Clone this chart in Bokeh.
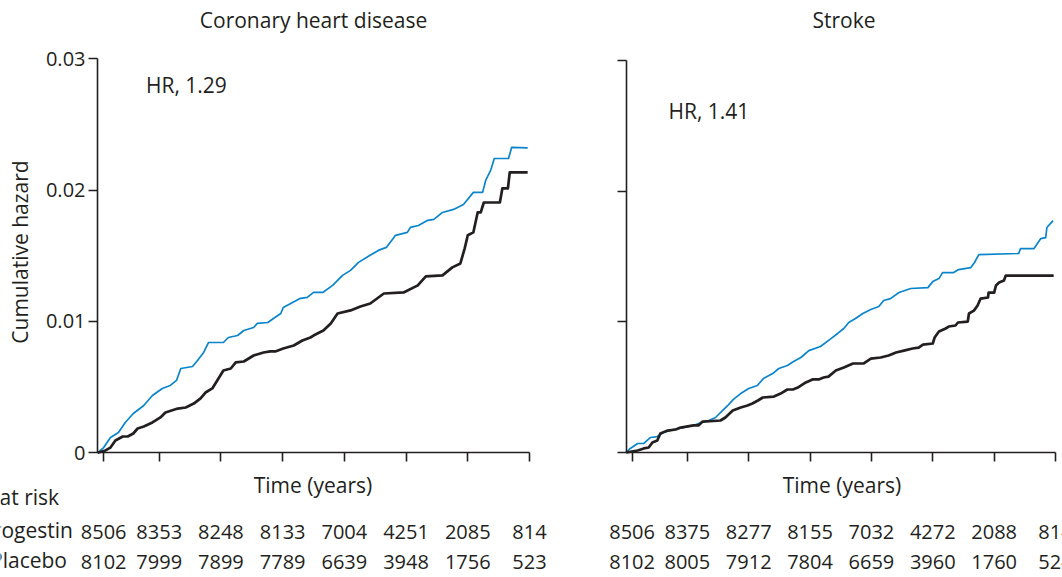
import math
from bokeh.plotting import figure
from bokeh.models import Range1d, FixedTicker, Label, LabelSet, ColumnDataSource
from bokeh.layouts import row
from bokeh.embed import file_html
from bokeh.resources import INLINE
from bokeh.core.properties import value

FONT = "Open Sans"
INK = "#231f20"
BLUE = "#0a85cc"

# ---------------- data ----------------
panel_titles = ["Coronary heart disease", "Stroke"]
hr_labels = ["HR, 1.29", "HR, 1.41"]
x_title = "Time (years)"
y_title = "Cumulative hazard"
risk_title = "Number at risk"
group_names = ["Estrogen + progestin", "Placebo"]

years = [0, 1, 2, 3, 4, 5, 6, 7]
y_ticks = [0, 0.01, 0.02, 0.03]
y_tick_labels = ["0", "0.01", "0.02", "0.03"]

chd_risk_ep = [8506, 8353, 8248, 8133, 7004, 4251, 2085, 814]
chd_risk_pl = [8102, 7999, 7899, 7789, 6639, 3948, 1756, 523]
stroke_risk_ep = [8506, 8375, 8277, 8155, 7032, 4272, 2088, 814]
stroke_risk_pl = [8102, 8005, 7912, 7804, 6659, 3960, 1760, 524]

# Coronary heart disease, estrogen + progestin (blue)
chd_t_ep = [0, 0.10, 0.21, 0.34, 0.45, 0.58, 0.75, 0.89, 1.05, 1.18, 1.28, 1.35, 1.54, 1.62,
            1.72, 1.80, 2.04, 2.12, 2.27, 2.37, 2.53, 2.59, 2.76, 2.85, 2.97, 3.01, 3.13, 3.29,
            3.40, 3.50, 3.65, 3.81, 3.97, 4.10, 4.23, 4.39, 4.55, 4.68, 4.83, 5.02, 5.07, 5.20,
            5.35, 5.45, 5.59, 5.77, 5.93, 6.09, 6.24, 6.29, 6.37, 6.43, 6.66, 6.71, 6.97]
chd_h_ep = [0, 0.0004, 0.00117, 0.00155, 0.00231, 0.00299, 0.0036, 0.00436, 0.0049, 0.00513,
            0.00551, 0.00642, 0.00657, 0.00703, 0.00764, 0.0084, 0.0084, 0.00878, 0.00893,
            0.00931, 0.00954, 0.00985, 0.00992, 0.01023, 0.01061, 0.01107, 0.01137, 0.01176,
            0.01183, 0.01221, 0.01221, 0.01275, 0.01351, 0.01389, 0.0145, 0.01496, 0.01541,
            0.01564, 0.01656, 0.01678, 0.01716, 0.01731, 0.0177, 0.01777, 0.0183, 0.01853,
            0.01891, 0.01983, 0.01983, 0.02074, 0.0215, 0.02241, 0.02241, 0.02325, 0.02322]

# Coronary heart disease, placebo (black)
chd_t_pl = [0, 0.13, 0.21, 0.29, 0.41, 0.49, 0.58, 0.65, 0.75, 0.89, 1.02, 1.10, 1.30, 1.43,
            1.56, 1.67, 1.75, 1.86, 1.96, 2.04, 2.16, 2.24, 2.37, 2.53, 2.69, 2.80, 2.88, 3.01,
            3.18, 3.32, 3.45, 3.50, 3.66, 3.78, 3.89, 4.10, 4.26, 4.42, 4.64, 4.96, 5.19, 5.32,
            5.59, 5.75, 5.88, 5.95, 6.00, 6.09, 6.16, 6.21, 6.26, 6.52, 6.56, 6.65, 6.68, 6.97]
chd_h_pl = [0, 0.00018, 0.0004, 0.00094, 0.00124, 0.00124, 0.00147, 0.00185, 0.002, 0.00231,
            0.00269, 0.00307, 0.00337, 0.00345, 0.00375, 0.00414, 0.00459, 0.0049, 0.00566,
            0.00627, 0.00642, 0.00688, 0.00695, 0.00741, 0.00764, 0.00772, 0.00772, 0.00794,
            0.00817, 0.00855, 0.00878, 0.00893, 0.00931, 0.00985, 0.01061, 0.01084, 0.01114,
            0.01137, 0.01213, 0.01221, 0.01275, 0.01343, 0.01351, 0.01412, 0.01442, 0.01557,
            0.01656, 0.01678, 0.0183, 0.0183, 0.01906, 0.01906, 0.02013, 0.02013, 0.02135, 0.02135]

# Stroke, estrogen + progestin (blue)
stroke_t_ep = [0, 0.07, 0.19, 0.29, 0.40, 0.51, 0.61, 0.77, 0.94, 1.10, 1.22, 1.35, 1.46, 1.54,
               1.66, 1.75, 1.87, 2.00, 2.14, 2.24, 2.39, 2.49, 2.63, 2.73, 2.85, 2.98, 3.17, 3.34,
               3.45, 3.55, 3.63, 3.74, 3.86, 3.99, 4.12, 4.20, 4.31, 4.45, 4.64, 4.92, 5.00, 5.10,
               5.16, 5.34, 5.42, 5.62, 5.68, 5.75, 6.40, 6.43, 6.65, 6.76, 6.84, 6.86, 6.96]
stroke_h_ep = [0, 0.00031, 0.00069, 0.00069, 0.00115, 0.00122, 0.00153, 0.00176, 0.00191,
               0.00207, 0.0023, 0.00245, 0.00268, 0.00306, 0.0036, 0.00406, 0.00451, 0.0049,
               0.00513, 0.00566, 0.00604, 0.00643, 0.00666, 0.00696, 0.00727, 0.0078, 0.00811,
               0.00872, 0.00911, 0.00949, 0.00995, 0.01025, 0.01064, 0.01094, 0.01117, 0.01163,
               0.01178, 0.01224, 0.01255, 0.01262, 0.01308, 0.01331, 0.01377, 0.01377, 0.014,
               0.01415, 0.01454, 0.01515, 0.01523, 0.01561, 0.01561, 0.01637, 0.01645, 0.01722,
               0.01775]

# Stroke, placebo (black)
stroke_t_pl = [0, 0.19, 0.29, 0.37, 0.43, 0.51, 0.56, 0.68, 0.81, 0.89, 1.10, 1.18, 1.25, 1.54,
               1.62, 1.74, 1.87, 1.98, 2.06, 2.15, 2.23, 2.41, 2.52, 2.63, 2.72, 2.80, 2.93, 3.04,
               3.14, 3.22, 3.30, 3.42, 3.55, 3.70, 3.87, 3.99, 4.15, 4.28, 4.40, 4.53, 4.67, 4.77,
               4.84, 5.00, 5.03, 5.10, 5.21, 5.26, 5.37, 5.41, 5.57, 5.59, 5.67, 5.73, 5.78, 5.90,
               5.91, 6.00, 6.03, 6.08, 6.16, 6.19, 6.97]
stroke_h_pl = [0, 0.00015, 0.00031, 0.00038, 0.00077, 0.00092, 0.00145, 0.00168, 0.00176,
               0.00191, 0.00207, 0.00207, 0.00237, 0.00245, 0.00268, 0.00321, 0.00344, 0.0036,
               0.00375, 0.00398, 0.00421, 0.00428, 0.00451, 0.00482, 0.00482, 0.00497, 0.00536,
               0.00559, 0.00559, 0.00574, 0.00581, 0.00627, 0.0065, 0.00681, 0.00681, 0.00719,
               0.00727, 0.00742, 0.00765, 0.0078, 0.00796, 0.00803, 0.00826, 0.00834, 0.0088,
               0.00926, 0.00949, 0.00964, 0.00972, 0.00995, 0.01002, 0.01064, 0.01086, 0.01125,
               0.01178, 0.01186, 0.01224, 0.01224, 0.01278, 0.01301, 0.01316, 0.01354, 0.01354]

# ---------------- layout (page pixels) ----------------
H = 577
X_END = 7
Y_END = 0.03
LABEL_SHIFT = 9  # Label draws its alphabetic baseline this many px below its anchor
tick_pos = [max(y, 0.1) for y in years]


class Panel:
    """A figure whose frame is the whole canvas; the axes sit at the data origin."""

    def __init__(self, page_x0, width, ax_left, ax_right, ax_top, ax_bottom, show_ylabels):
        self.page_x0 = page_x0
        self.ax_left, self.ax_right = ax_left, ax_right
        self.ax_top, self.ax_bottom = ax_top, ax_bottom
        x_start, x_end = self.dx(page_x0), self.dx(page_x0 + width)
        y_end, y_start = self.dy(0), self.dy(H)
        p = figure(width=width, height=H, x_range=Range1d(x_start, x_end),
                   y_range=Range1d(y_start, y_end),
                   output_backend="svg", toolbar_location=None, min_border=0)
        p.min_border_left = p.min_border_right = p.min_border_top = p.min_border_bottom = 0
        p.title.visible = False
        p.outline_line_color = None
        p.xgrid.visible = False
        p.ygrid.visible = False
        p.background_fill_color = "white"
        p.border_fill_color = "white"

        xa = p.xaxis[0]
        xa.fixed_location = 0
        xa.bounds = (0, X_END)
        xa.ticker = FixedTicker(ticks=tick_pos)
        xa.major_label_overrides = {t: "" for t in tick_pos}
        xa.minor_tick_line_color = None
        xa.major_tick_out = 9
        xa.major_tick_in = 0
        xa.axis_line_color = INK
        xa.major_tick_line_color = INK
        xa.axis_line_width = 1.6
        xa.major_tick_line_width = 1.6

        ya = p.yaxis[0]
        ya.fixed_location = 0
        ya.bounds = (0, Y_END)
        ya.ticker = FixedTicker(ticks=y_ticks)
        if show_ylabels:
            ya.major_label_overrides = dict(zip(y_ticks, y_tick_labels))
        else:
            ya.major_label_overrides = {t: "" for t in y_ticks}
        ya.minor_tick_line_color = None
        ya.major_tick_out = 9
        ya.major_tick_in = 0
        ya.major_label_standoff = 3
        ya.major_label_text_font = FONT
        ya.major_label_text_font_size = "20px"
        ya.major_label_text_color = INK
        ya.axis_line_color = INK
        ya.major_tick_line_color = INK
        ya.axis_line_width = 1.6
        ya.major_tick_line_width = 1.6
        self.p = p

    def dx(self, px):
        return (px - self.ax_left) * X_END / (self.ax_right - self.ax_left)

    def dy(self, py):
        return (self.ax_bottom - py) * Y_END / (self.ax_bottom - self.ax_top)

    def text(self, txt, px, py, align="left", size="21px", vertical=False):
        if vertical:
            px -= LABEL_SHIFT
        else:
            py -= LABEL_SHIFT
        self.p.add_layout(Label(x=self.dx(px), y=self.dy(py), text=txt, text_font=FONT,
                                text_font_size=size, text_color=INK, text_align=align,
                                text_baseline="alphabetic",
                                angle=math.pi / 2 if vertical else 0.0))

    def curves(self, t_ep, h_ep, t_pl, h_pl):
        self.p.line(t_ep, h_ep, line_color=BLUE, line_width=1.7, line_join="round")
        self.p.line(t_pl, h_pl, line_color=INK, line_width=2.7, line_join="round")

    def risk_rows(self, risk_ep, risk_pl, base1, base2):
        src = ColumnDataSource(dict(
            x=tick_pos + tick_pos,
            y=[self.dy(base1)] * len(tick_pos) + [self.dy(base2)] * len(tick_pos),
            text=[str(v) for v in risk_ep] + [str(v) for v in risk_pl]))
        self.p.add_layout(LabelSet(x="x", y="y", text="text", source=src,
                                   text_font=value(FONT), text_font_size=value("20px"),
                                   text_color=INK, text_align="center",
                                   text_baseline="alphabetic"))


SPLIT = 565

left = Panel(0, SPLIT, 97, 529, 58.3, 452.3, True)
left.curves(chd_t_ep, chd_h_ep, chd_t_pl, chd_h_pl)
left.text(panel_titles[0], 313, 28, align="center")
left.text(hr_labels[0], 145.5, 93)
left.text(x_title, 312.5, 493, align="center")
left.text(y_title, 28, 251.5, align="center", vertical=True)
left.text(risk_title, 58.6, 505, align="right")
left.text(group_names[0], 72.4, 538, align="right")
left.text(group_names[1], 66.5, 568, align="right")
left.risk_rows(chd_risk_ep, chd_risk_pl, 538, 568)

right = Panel(SPLIT, 1062 - SPLIT, 625.5, 1055, 60, 452, False)
right.curves(stroke_t_ep, stroke_h_ep, stroke_t_pl, stroke_h_pl)
right.text(panel_titles[1], 843.5, 28, align="center")
right.text(hr_labels[1], 668, 119)
right.text(x_title, 841.5, 493, align="center")
right.risk_rows(stroke_risk_ep, stroke_risk_pl, 538, 568)

layout = row(left.p, right.p)
open("out.html", "w").write(file_html(layout, INLINE))
